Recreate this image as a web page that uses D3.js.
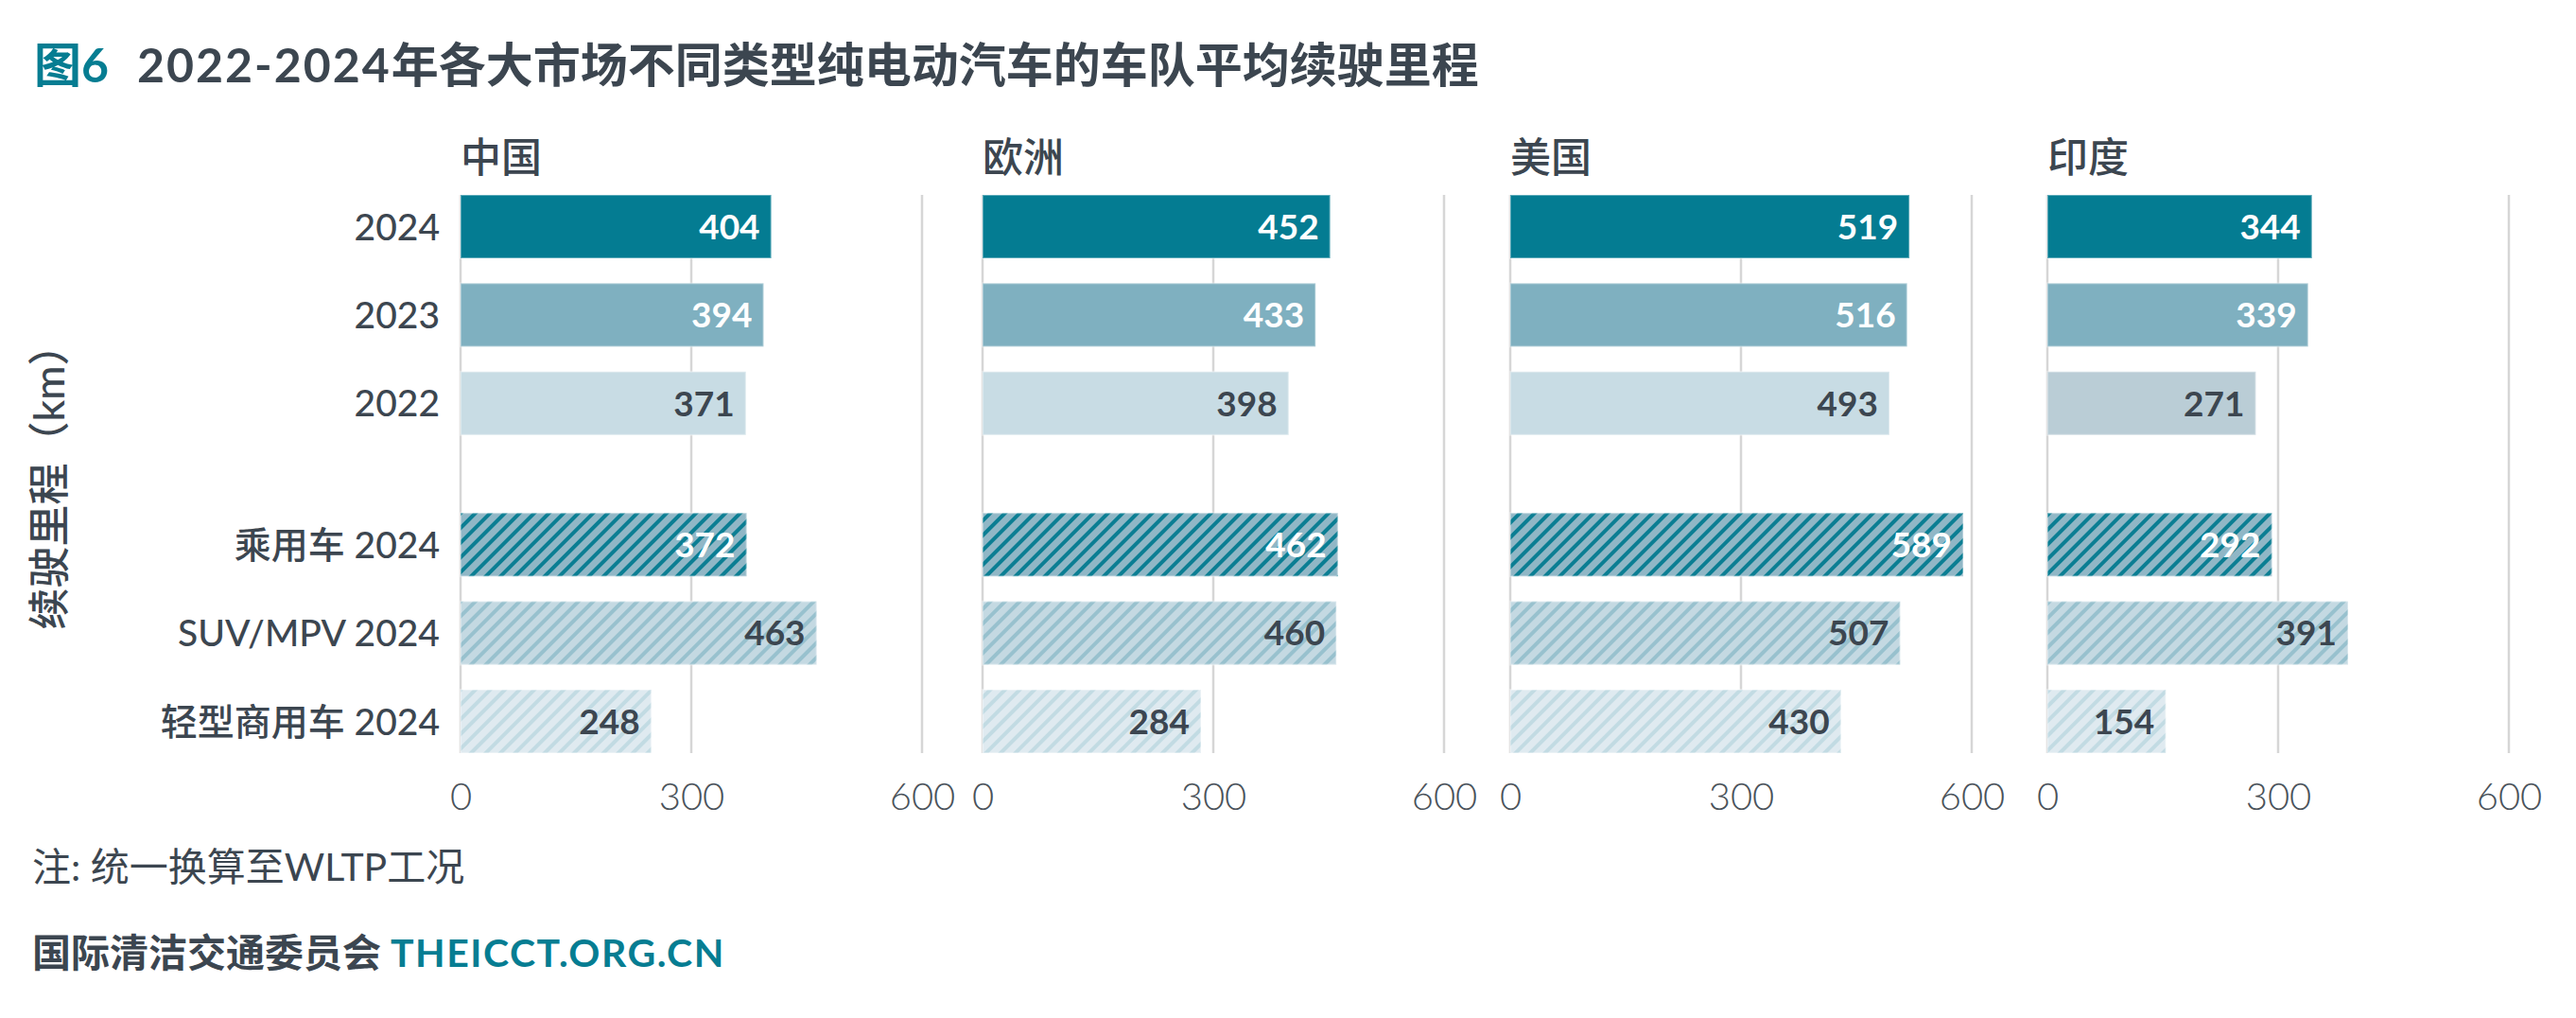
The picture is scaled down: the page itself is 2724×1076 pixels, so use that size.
<!DOCTYPE html>
<html>
<head>
<meta charset="utf-8">
<script src="https://cdn.jsdelivr.net/npm/d3@7"></script>
<style>
  html, body { margin: 0; padding: 0; background: #fff; }
  svg { display: block; }
  text { font-family: Lato, "Noto Sans CJK SC", sans-serif; }
</style>
</head>
<body>
<div id="chart"></div>
<script>
// data
const categories = ["2024", "2023", "2022", "乘用车 2024", "SUV/MPV 2024", "轻型商用车 2024"];
const markets = ["中国", "欧洲", "美国", "印度"];
const chinaValues = [404, 394, 371, 372, 463, 248];
const europeValues = [452, 433, 398, 462, 460, 284];
const usValues = [519, 516, 493, 589, 507, 430];
const indiaValues = [344, 339, 271, 292, 391, 154];
const tickValues = [0, 300, 600];

const series = [chinaValues, europeValues, usValues, indiaValues];

const width = 2724;
const height = 1076;
const dark = "#3c4650";
const teal = "#067d92";
const wide = "'Open Sans', 'Noto Sans CJK SC', sans-serif";

// layout
const panelX = [487, 1039, 1597, 2165];
const panelW = 488;
const rowPos = (i) => i + (i >= 3 ? 0.6 : 0);
const y = d3.scaleLinear().domain([0, 5.6]).range([206, 729]);
const barH = 67;

const fills = ["#047c92", "#7fb0c0", "#c8dce4", "url(#hatch0)", "url(#hatch1)", "url(#hatch2)"];
const labelColor = ["#fff", "#fff", dark, "#fff", dark, dark];
const hatches = [
  { bg: "#90b7c6", fg: "#0b7e93" },
  { bg: "#c4d9e2", fg: "#98c1ce" },
  { bg: "#dfeaf0", fg: "#c2dbe3" }
];

const svg = d3.select("#chart").append("svg")
  .attr("width", width)
  .attr("height", height)
  .attr("viewBox", [0, 0, width, height]);

const defs = svg.append("defs");
hatches.forEach((h, i) => {
  const p = defs.append("pattern")
    .attr("id", "hatch" + i)
    .attr("patternUnits", "userSpaceOnUse")
    .attr("width", 11)
    .attr("height", 11)
    .attr("patternTransform", "rotate(45)");
  p.append("rect").attr("width", 11).attr("height", 11).attr("fill", h.bg);
  p.append("rect").attr("width", 4).attr("height", 11).attr("fill", h.fg);
});

// title
const title = svg.append("text")
  .attr("x", 36)
  .attr("y", 87)
  .attr("font-family", wide)
  .attr("font-size", 50)
  .attr("font-weight", 700);
title.append("tspan").attr("fill", teal).text("图6");
title.append("tspan").attr("fill", dark).attr("dx", 30).attr("letter-spacing", 2).text("2022-2024");
title.append("tspan").attr("fill", dark).text("年各大市场不同类型纯电动汽车的车队平均续驶里程");

// y-axis title
svg.append("text")
  .attr("transform", "translate(68,504) rotate(-90)")
  .attr("text-anchor", "middle")
  .attr("font-family", wide)
  .attr("font-size", 44)
  .attr("font-weight", 500)
  .attr("fill", dark)
  .text("续驶里程（km）");

// category labels
svg.append("g")
  .selectAll("text")
  .data(categories)
  .join("text")
  .attr("x", 465)
  .attr("y", (d, i) => y(rowPos(i)) + barH / 2)
  .attr("dy", "0.36em")
  .attr("text-anchor", "end")
  .attr("font-family", wide)
  .attr("font-size", 39)
  .attr("font-weight", 500)
  .attr("fill", dark)
  .text((d) => d);

markets.forEach((m, k) => {
  const x = d3.scaleLinear().domain([0, 600]).range([panelX[k], panelX[k] + panelW]);
  const g = svg.append("g");

  g.append("text")
    .attr("x", panelX[k])
    .attr("y", 182)
    .attr("font-size", 43)
    .attr("font-weight", 500)
    .attr("fill", dark)
    .text(m);

  g.append("g")
    .selectAll("line")
    .data(tickValues)
    .join("line")
    .attr("x1", (d) => x(d))
    .attr("x2", (d) => x(d))
    .attr("y1", 206)
    .attr("y2", 796)
    .attr("stroke", "#d6d6d6")
    .attr("stroke-width", 2.5);

  g.append("g")
    .selectAll("rect")
    .data(series[k])
    .join("rect")
    .attr("x", x(0))
    .attr("y", (d, i) => y(rowPos(i)))
    .attr("width", (d) => x(d) - x(0))
    .attr("height", barH)
    .attr("fill", (d, i) => (k === 3 && i === 2 ? "#bacdd6" : fills[i]))
    .attr("stroke", "#ffffff")
    .attr("stroke-opacity", 0.35)
    .attr("stroke-width", 2);

  g.append("g")
    .selectAll("text")
    .data(series[k])
    .join("text")
    .attr("x", (d) => x(d) - 12)
    .attr("y", (d, i) => y(rowPos(i)) + barH / 2)
    .attr("dy", "0.36em")
    .attr("text-anchor", "end")
    .attr("font-size", 37)
    .attr("font-weight", 700)
    .attr("fill", (d, i) => labelColor[i])
    .text((d) => d);

  const axis = g.append("g")
    .attr("transform", "translate(0,828)")
    .call(d3.axisBottom(x).tickValues(tickValues).tickSize(0).tickPadding(0));
  axis.select(".domain").remove();
  axis.selectAll("text")
    .attr("font-size", 40)
    .attr("font-family", "Lato, sans-serif")
    .attr("font-weight", 300)
    .attr("fill", "#4a525a")
    .attr("dy", "0.71em");
});

// notes
svg.append("text")
  .attr("x", 34)
  .attr("y", 931)
  .attr("font-family", wide)
  .attr("font-size", 41)
  .attr("fill", dark)
  .text("注: 统一换算至WLTP工况");

const src = svg.append("text")
  .attr("x", 34)
  .attr("y", 1022)
  .attr("font-family", wide)
  .attr("font-size", 41)
  .attr("font-weight", 700);
src.append("tspan").attr("fill", dark).text("国际清洁交通委员会 ");
src.append("tspan").attr("fill", teal).attr("letter-spacing", 1.5).text("THEICCT.ORG.CN");
</script>
</body>
</html>
